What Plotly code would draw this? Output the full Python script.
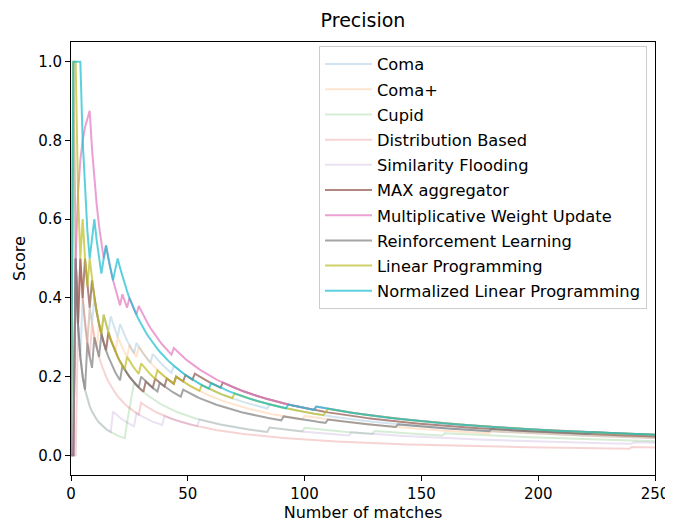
import numpy as np
import plotly.graph_objects as go

N_MATCHES = 250

methods = ["Coma", "Coma+", "Cupid", "Distribution Based", "Similarity Flooding",
           "MAX aggregator", "Multiplicative Weight Update", "Reinforcement Learning",
           "Linear Programming", "Normalized Linear Programming"]

# ranks (1-based) at which each method's ranked list contains a correct match
hits_coma = [2, 5, 8, 10, 14, 17, 21, 28, 35, 44, 85]
hits_coma_plus = [1, 4, 8, 12, 16, 20, 25, 29, 45, 100, 180]
hits_cupid = [1, 24, 25, 26, 27, 85, 100, 130, 160]
hits_distribution = [3, 4, 9, 30, 240]
hits_similarity_flooding = [1, 18, 28, 40, 55, 85, 120, 241]
hits_max_aggregator = [2, 4, 6, 9, 16, 32, 36, 41, 45, 49, 53, 65]
hits_mwu = [2, 3, 4, 5, 6, 7, 8, 15, 22, 25, 29, 44, 105]
hits_rl = [2, 7, 10, 13, 22, 30, 38, 48, 91, 110, 140, 180, 223]
hits_lp = [1, 2, 5, 8, 14, 24, 30, 37, 45, 56, 70, 109, 110]
hits_nlp = [1, 2, 3, 4, 9, 10, 14, 15, 19, 20, 60, 93, 105]

all_hits = [hits_coma, hits_coma_plus, hits_cupid, hits_distribution, hits_similarity_flooding,
            hits_max_aggregator, hits_mwu, hits_rl, hits_lp, hits_nlp]

colors = ["rgba(31,119,180,0.2)", "rgba(255,127,14,0.2)", "rgba(44,160,44,0.2)",
          "rgba(214,39,40,0.2)", "rgba(148,103,189,0.2)", "rgba(140,86,75,0.7)",
          "rgba(227,119,194,0.7)", "rgba(127,127,127,0.7)", "rgba(188,189,34,0.7)",
          "rgba(23,190,207,0.7)"]


def precision_curve(hits, n):
    correct = np.zeros(n + 1)
    for h in hits:
        correct[h] = 1
    cum = np.cumsum(correct)
    k = np.arange(n + 1)
    p = np.zeros(n + 1)
    p[1:] = cum[1:] / k[1:]
    return k, p


fig = go.Figure()
for i, (name, hits, col) in enumerate(zip(methods, all_hits, colors)):
    k, p = precision_curve(hits, N_MATCHES)
    fig.add_trace(go.Scatter(x=k, y=p, mode="lines", name=name,
                             line=dict(color=col, width=2),
                             legendgroup=f"g{i}"))

axis_common = dict(showline=True, linecolor="black", linewidth=1, mirror=True,
                   ticks="outside", ticklen=5, tickcolor="black", showgrid=False,
                   zeroline=False, automargin=False,
                   tickfont=dict(size=15, color="black"))

W, H = 665, 519
fig.update_layout(
    width=W, height=H,
    margin=dict(l=63, r=18, t=34, b=52, autoexpand=False),
    plot_bgcolor="white", paper_bgcolor="white",
    font=dict(family="DejaVu Sans", color="black"),
    title=dict(text="Precision", x=0.5, xref="paper", xanchor="center",
               y=1 - 12 / H, yref="container", yanchor="middle",
               font=dict(size=19)),
    xaxis=dict(range=[0, 250], tickvals=[0, 50, 100, 150, 200, 250],
               title=dict(text="Number of matches", font=dict(size=16), standoff=2),
               **axis_common),
    yaxis=dict(range=[-0.05, 1.05], tickvals=[0, 0.2, 0.4, 0.6, 0.8, 1.0],
               tickformat=".1f",
               title=dict(text="Score", font=dict(size=16), standoff=8),
               **axis_common),
    legend=dict(x=(639 - 63) / 584, y=1 - 4 / 433, xanchor="right", yanchor="top",
                bordercolor="rgb(204,204,204)", borderwidth=1, bgcolor="rgba(255,255,255,0.8)",
                font=dict(size=16.3), traceorder="grouped", tracegroupgap=1,
                itemwidth=47),
    showlegend=True,
)

fig.write_html("out.html")
